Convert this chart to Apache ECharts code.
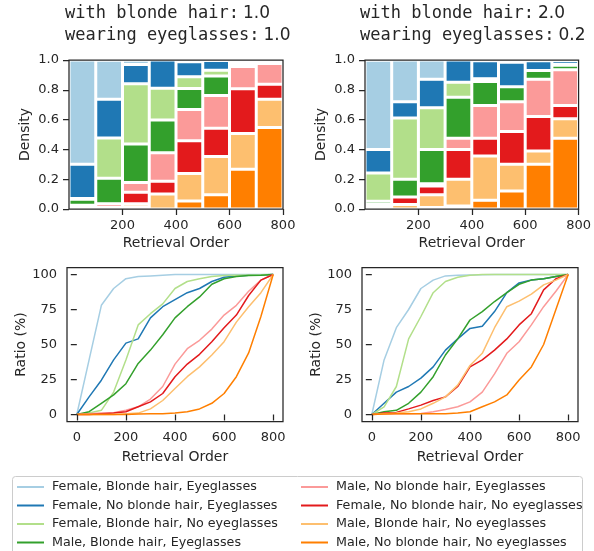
<!DOCTYPE html>
<html><head><meta charset="utf-8">
<script src="https://cdn.jsdelivr.net/npm/echarts@6/dist/echarts.min.js"></script>
<style>html,body{margin:0;padding:0;background:#fff}#c{width:594px;height:551px}</style>
</head><body><div id="c"></div>
<script>
const groupNames = [
  'Female, Blonde hair, Eyeglasses',
  'Female, No blonde hair, Eyeglasses',
  'Female, Blonde hair, No eyeglasses',
  'Male, Blonde hair, Eyeglasses',
  'Male, No blonde hair, Eyeglasses',
  'Female, No blonde hair, No eyeglasses',
  'Male, Blonde hair, No eyeglasses',
  'Male, No blonde hair, No eyeglasses'
];
const groupColors = ['#a6cee3','#1f78b4','#b2df8a','#33a02c','#fb9a99','#e31a1c','#fdbf6f','#ff7f00'];
const binCategories = ['0-100','100-200','200-300','300-400','400-500','500-600','600-700','700-800'];
const densityTicks = [0, 0.2, 0.4, 0.6, 0.8, 1.0];
const orderTicksTop = [200, 400, 600, 800];
const orderTicksBottom = [0, 200, 400, 600, 800];
const ratioTicks = [0, 25, 50, 75, 100];
const panelBlonde = [1.0, 2.0];
const panelEyeglasses = [1.0, 0.2];
const retrievalOrder = [0,50,100,150,200,250,300,350,400,450,500,550,600,650,700,750,800];

// Panel 1 (blonde 1.0, eyeglasses 1.0): density per bin
const densA_FBE = [0.70, 0.262, 0.029, 0, 0.012, 0.004, 0.01, 0.013];
const densA_FNE = [0.23, 0.26, 0.13, 0.19, 0.10, 0.064, 0.013, 0];
const densA_FBN = [0.005, 0.271, 0.404, 0.213, 0.08, 0.04, 0.007, 0.01];
const densA_MBE = [0.04, 0.17, 0.258, 0.22, 0.14, 0.13, 0.013, 0];
const densA_MNE = [0.015, 0.026, 0.065, 0.19, 0.21, 0.22, 0.15, 0.14];
const densA_FNN = [0, 0, 0.078, 0.087, 0.22, 0.19, 0.30, 0.10];
const densA_MBN = [0.01, 0.01, 0.022, 0.10, 0.184, 0.256, 0.24, 0.19];
const densA_MNN = [0, 0, 0.013, 0, 0.054, 0.096, 0.267, 0.547];

// Panel 2 (blonde 2.0, eyeglasses 0.2): density per bin
const densB_FBE = [0.60, 0.28, 0.13, 0, 0.005, 0.013, 0.005, 0.005];
const densB_FNE = [0.157, 0.11, 0.19, 0.15, 0.12, 0.165, 0.065, 0.025];
const densB_FBN = [0.19, 0.41, 0.28, 0.10, 0.02, 0, 0, 0.005];
const densB_MBE = [0.022, 0.12, 0.23, 0.275, 0.16, 0.10, 0.06, 0.03];
const densB_MNE = [0.003, 0, 0.015, 0.075, 0.22, 0.20, 0.25, 0.24];
const densB_FNN = [0.015, 0.05, 0.06, 0.20, 0.12, 0.22, 0.23, 0.09];
const densB_MBN = [0.012, 0.03, 0.085, 0.18, 0.297, 0.18, 0.09, 0.13];
const densB_MNN = [0, 0, 0.01, 0.02, 0.058, 0.12, 0.30, 0.475];

// Panel 1: cumulative ratio (%) at retrievalOrder
const ratioA_FBE = [0,39,78,90,97,98.5,99,99.5,100,100,100,100,100,100,100,100,100];
const ratioA_FNE = [0,12.6,24.5,39,51,54,69,77,82,87,90,95,98,99,99.5,99.7,100];
const ratioA_FBN = [0,1,3,16,39,64,72,79,90,95,97,98.5,99.3,99.5,99.7,99.8,100];
const ratioA_MBE = [0,2,8,14,22,36.5,46,57,69,77,84,93,97,98.5,99.3,99.5,100];
const ratioA_MNE = [0,0.5,1,1.2,3,5.5,11,20,36,47,53,61,71,78,88,96,100];
const ratioA_FNN = [0,0,0.5,1,2,5.5,9,15,27,36,43,52,62,71,85,96,100];
const ratioA_MBN = [0,0,0,0,0.5,1,4,10,18.6,27,34,42.5,52,66,77,87,100];
const ratioA_MNN = [0,0,0,0,0,0.3,0.5,0.5,1,2,4,8,15,27,44,70,100];

// Panel 2: cumulative ratio (%) at retrievalOrder
const ratioB_FBE = [0,39,62,75,90,96,99,99.5,99.7,99.8,100,100,100,100,100,100,100];
const ratioB_FNE = [0,8,16,20,26,34,46,54,61.5,63,73.5,87,94,96,97,98.5,100];
const ratioB_FBN = [0,5.5,20,54,70,87,95,98,99.5,100,100,100,100,100,100,100,100];
const ratioB_MBE = [0,2,3,8,16,27,42.5,54,67.5,73.5,80.7,87,93,96,97,98.5,100];
const ratioB_MNE = [0,0.3,0.5,0.5,0.7,2,3.6,5.5,9,16,29,43.7,52,64,77,88,100];
const ratioB_FNN = [0,1,1.5,4,6.7,10,12.6,20,34,39,46,54,64,72,89,97,100];
const ratioB_MBN = [0,0.5,1,2,4,8,12.6,21,35,43.7,62,77,81,86,92.6,96,100];
const ratioB_MNN = [0,0.3,0.5,0.5,0.5,0.5,0.5,1,2,5.5,9,14,24.6,34,50,75,100];

const densityPanels = [
  [densA_FBE, densA_FNE, densA_FBN, densA_MBE, densA_MNE, densA_FNN, densA_MBN, densA_MNN],
  [densB_FBE, densB_FNE, densB_FBN, densB_MBE, densB_MNE, densB_FNN, densB_MBN, densB_MNN]
];
const ratioPanels = [
  [ratioA_FBE, ratioA_FNE, ratioA_FBN, ratioA_MBE, ratioA_MNE, ratioA_FNN, ratioA_MBN, ratioA_MNN],
  [ratioB_FBE, ratioB_FNE, ratioB_FBN, ratioB_MBE, ratioB_MNE, ratioB_FNN, ratioB_MBN, ratioB_MNN]
];

const F = 'DejaVu Sans';
const C = '#262626';

const gridBox = {show: true, borderColor: C, borderWidth: 1.25, backgroundColor: 'transparent', z: 10, containLabel: false};
const grids = [
  Object.assign({left: 69, top: 60, width: 214, height: 149}, gridBox),
  Object.assign({left: 365, top: 60, width: 214, height: 149}, gridBox),
  Object.assign({left: 67, top: 267.5, width: 216, height: 154}, gridBox),
  Object.assign({left: 362, top: 267.5, width: 216, height: 154}, gridBox)
];

function tickStyle(ticks) {
  return {show: true, inside: false, length: 6, lineStyle: {color: C, width: 1.25}, customValues: ticks};
}
function valueX(gridIndex, min, max, ticks, nameGap) {
  return {
    type: 'value', gridIndex, min, max, position: 'bottom',
    name: 'Retrieval Order', nameLocation: 'middle', nameGap,
    nameTextStyle: {fontFamily: F, fontSize: 14, color: C},
    axisLine: {show: false}, splitLine: {show: false},
    axisTick: tickStyle(ticks),
    axisLabel: {customValues: ticks, margin: 10, fontFamily: F, fontSize: 13, color: C},
    z: 11
  };
}
function catX(gridIndex) {
  return {type: 'category', gridIndex, data: binCategories, show: false, boundaryGap: true, position: 'bottom'};
}
function valueY(gridIndex, min, max, ticks, name, nameGap, fmt) {
  return {
    type: 'value', gridIndex, min, max, position: 'left',
    name, nameLocation: 'middle', nameGap,
    nameTextStyle: {fontFamily: F, fontSize: 14, color: C},
    axisLine: {show: false}, splitLine: {show: false},
    axisTick: tickStyle(ticks),
    axisLabel: {customValues: ticks, margin: 10, fontFamily: F, fontSize: 13, color: C, formatter: fmt},
    z: 11
  };
}

const xAxes = [
  catX(0), valueX(0, 0, 800, orderTicksTop, 27),
  catX(1), valueX(1, 0, 800, orderTicksTop, 27),
  valueX(2, -40, 840, orderTicksBottom, 29),
  valueX(3, -40, 840, orderTicksBottom, 29)
];
const yAxes = [
  valueY(0, 0, 1, densityTicks, 'Density', 37, v => v.toFixed(1)),
  valueY(1, 0, 1, densityTicks, 'Density', 37, v => v.toFixed(1)),
  valueY(2, -5, 105, ratioTicks, 'Ratio (%)', 33, v => String(v)),
  valueY(3, -5, 105, ratioTicks, 'Ratio (%)', 33, v => String(v))
];

const series = [];
for (let p = 0; p < 2; p++) {
  for (let g = 7; g >= 0; g--) {
    series.push({
      type: 'bar', name: groupNames[g], xAxisIndex: p * 2, yAxisIndex: p,
      stack: 'dens' + p, data: densityPanels[p][g],
      barWidth: '100%', barCategoryGap: '0%',
      itemStyle: {color: groupColors[g], borderColor: '#ffffff', borderWidth: 1.5},
      emphasis: {disabled: true}, silent: true
    });
  }
}
for (let p = 0; p < 2; p++) {
  for (let g = 0; g < 8; g++) {
    series.push({
      type: 'line', name: groupNames[g], xAxisIndex: 4 + p, yAxisIndex: 2 + p,
      data: retrievalOrder.map((x, i) => [x, ratioPanels[p][g][i]]),
      showSymbol: false, symbol: 'none',
      lineStyle: {width: 1.5, color: groupColors[g]},
      itemStyle: {color: groupColors[g]},
      emphasis: {disabled: true}, silent: true, z: 3 + g * 0.01
    });
  }
}

function legendCol(left, names) {
  return {
    data: names, left, top: 480, orient: 'vertical',
    itemGap: 4.5, itemWidth: 27, itemHeight: 2, icon: 'rect',
    padding: 0, selectedMode: false, z: 20,
    itemStyle: {borderWidth: 0, borderColor: 'transparent'},
    textStyle: {fontFamily: F, fontSize: 12.7, color: C, lineHeight: 14, padding: [0, 0, 0, 3]}
  };
}

const titles = panelBlonde.map((b, i) => ({
  left: i === 0 ? 65 : 360, top: 3, padding: 0,
  text: '{m|with blonde hair:}{n|' + b.toFixed(1) + '}\n{m|wearing eyeglasses:}{n|' + panelEyeglasses[i].toFixed(1) + '}',
  textStyle: {
    fontWeight: 'normal',
    rich: {
      m: {fontFamily: 'DejaVu Sans Mono', fontSize: 17, fontWeight: 'normal', color: C, lineHeight: 22},
      n: {fontFamily: F, fontSize: 17, fontWeight: 'normal', color: C, lineHeight: 22, padding: [0, 0, 0, 4]}
    }
  }
}));

const chart = echarts.init(document.getElementById('c'), null, {renderer: 'canvas'});
chart.setOption({
  animation: false,
  backgroundColor: '#ffffff',
  title: titles,
  grid: grids,
  xAxis: xAxes,
  yAxis: yAxes,
  legend: [legendCol(17, groupNames.slice(0, 4)), legendCol(301, groupNames.slice(4, 8))],
  graphic: [{
    type: 'rect', z: 1, silent: true,
    shape: {x: 12.5, y: 476.5, width: 570, height: 90, r: 3},
    style: {fill: '#ffffff', stroke: '#cccccc', lineWidth: 1}
  }],
  series
});
</script>
</body></html>
